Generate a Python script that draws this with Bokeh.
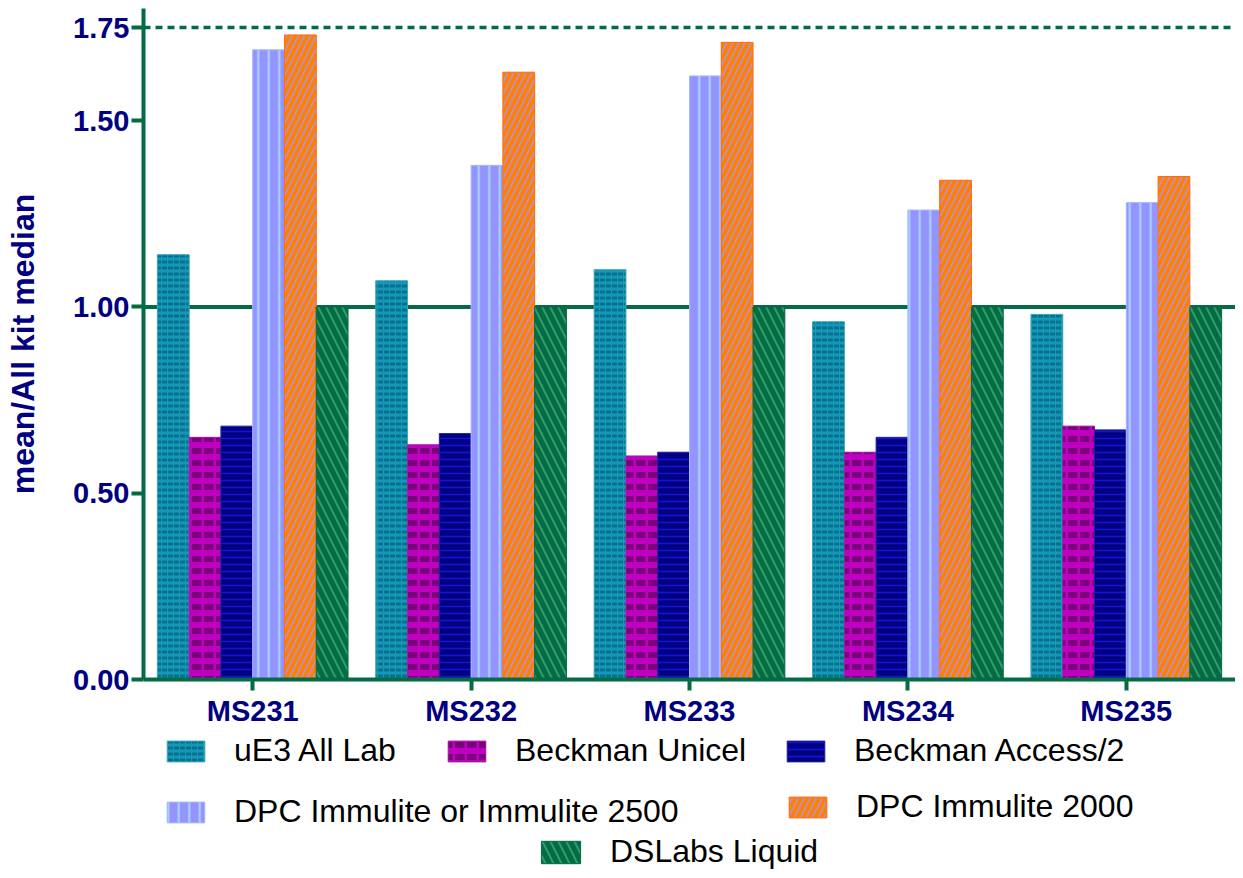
from bokeh.plotting import figure
from bokeh.layouts import column
from bokeh.models import (FactorRange, Range1d, Span, Legend, LegendItem, FixedTicker,
                          ColumnDataSource, CustomJSTickFormatter)
from bokeh.transform import dodge
from bokeh.embed import file_html
from bokeh.resources import INLINE

# ---- data ----
groups = ["MS231", "MS232", "MS233", "MS234", "MS235"]
series_names = ["uE3 All Lab", "Beckman Unicel", "Beckman Access/2",
                "DPC Immulite or Immulite 2500", "DPC Immulite 2000", "DSLabs Liquid"]
ue3_all_lab = [1.14, 1.07, 1.10, 0.96, 0.98]
beckman_unicel = [0.65, 0.63, 0.60, 0.61, 0.68]
beckman_access2 = [0.68, 0.66, 0.61, 0.65, 0.67]
dpc_immulite_2500 = [1.69, 1.38, 1.62, 1.26, 1.28]
dpc_immulite_2000 = [1.73, 1.63, 1.71, 1.34, 1.35]
dslabs_liquid = [1.00, 1.00, 1.00, 1.00, 1.00]
y_ticks = [0.0, 0.5, 1.0, 1.5, 1.75]
reference_line = 1.0
upper_line = 1.75

GREEN = "#056B45"
NAVY = "#000080"

styles = [
    dict(fill_color="#1399B7", line_color="#3AA6BE", hatch_pattern="horizontal_dash",
         hatch_color="#08708C", hatch_scale=6, hatch_weight=3),
    dict(fill_color="#C000C0", line_color="#9A209A", hatch_pattern="horizontal_dash",
         hatch_color="#7B007B", hatch_scale=12, hatch_weight=6),
    dict(fill_color="#000080", line_color="#2020A0", hatch_pattern="horizontal_line",
         hatch_color="#1414D8", hatch_scale=7, hatch_weight=1.5),
    dict(fill_color="#9494FF", line_color="#A8B8FF", hatch_pattern="vertical_line",
         hatch_color="#A9D6FF", hatch_scale=10.5, hatch_weight=2),
    dict(fill_color="#FF8000", line_color="#FF6A10", hatch_pattern="right_diagonal_line",
         hatch_color="#B592D6", hatch_scale=12, hatch_weight=1.6),
    dict(fill_color="#056B45", line_color="#056B45", hatch_pattern="left_diagonal_line",
         hatch_color="#2E9E66", hatch_scale=16, hatch_weight=2),
]

src = ColumnDataSource(dict(group=groups, s0=ue3_all_lab, s1=beckman_unicel, s2=beckman_access2,
                            s3=dpc_immulite_2500, s4=dpc_immulite_2000, s5=dslabs_liquid))

p = figure(width=1235, height=732, x_range=FactorRange(factors=groups, range_padding=0),
           y_range=Range1d(0, 1.801), output_backend="svg", toolbar_location=None,
           min_border_left=143, min_border_right=0, min_border_top=8, min_border_bottom=53)
p.outline_line_color = None
p.grid.visible = False

p.add_layout(Span(location=reference_line, dimension="width", line_color=GREEN,
                  line_width=4, level="underlay"))
p.add_layout(Span(location=upper_line, dimension="width", line_color=GREEN,
                  line_width=3.5, line_dash="7 5", level="underlay"))

w = 0.1455
for i, st in enumerate(styles):
    p.vbar(x=dodge("group", (i - 2.5) * w, range=p.x_range), top="s%d" % i, width=w,
           source=src, line_width=1, **st)

for ax in (p.xaxis[0], p.yaxis[0]):
    ax.axis_line_color = GREEN
    ax.axis_line_width = 4
    ax.major_tick_line_color = GREEN
    ax.major_tick_line_width = 4
    ax.major_tick_in = 0
    ax.minor_tick_line_color = None
    ax.major_label_text_font = "Liberation Sans"
    ax.major_label_text_font_style = "bold"
    ax.major_label_text_color = NAVY
    ax.major_label_text_font_size = "29px"

p.xaxis.major_tick_out = 11
p.xaxis.major_label_standoff = 4
p.yaxis.major_tick_out = 12
p.yaxis.major_label_standoff = 2
p.yaxis.ticker = FixedTicker(ticks=y_ticks)
p.yaxis.formatter = CustomJSTickFormatter(code="return tick.toFixed(2);")
p.yaxis.axis_label = "mean/All kit median"
p.yaxis.axis_label_text_font = "Liberation Sans"
p.yaxis.axis_label_text_font_style = "bold"
p.yaxis.axis_label_text_font_size = "32px"
p.yaxis.axis_label_text_color = NAVY
p.yaxis.axis_label_standoff = 29

# ---- legend panel under the chart (frame is aligned with the chart frame) ----
lf = figure(width=1235, height=138, x_range=Range1d(0, 1), y_range=Range1d(0, 1),
            output_backend="svg", toolbar_location=None, x_axis_location=None,
            y_axis_location=None, min_border=0)
lf.outline_line_color = None
lf.grid.visible = False
# one placeholder row outside the visible range, only so the legend swatches get drawn
placeholder = ColumnDataSource(dict(x=[-5.0], top=[-5.0]))
legend_spots = [(19, 101), (300, 101), (639, 101), (19, 40), (641, 45), (393, 0)]
for i, (name, st) in enumerate(zip(series_names, styles)):
    r = lf.vbar(x="x", top="top", width=0.1, source=placeholder, line_width=1, **st)
    big = (i == 5)
    lg = Legend(items=[LegendItem(label=name, renderers=[r], index=0)], location=legend_spots[i],
                orientation="horizontal", padding=0, margin=0, spacing=0,
                glyph_width=49 if big else 47, glyph_height=28 if big else 26,
                label_standoff=25, label_height=20,
                label_text_font="Liberation Sans", label_text_font_size="32px",
                label_text_color="black", border_line_color=None,
                background_fill_alpha=0)
    lf.add_layout(lg, "center")

layout = column(p, lf, spacing=0)
open("out.html", "w").write(file_html(layout, INLINE))
